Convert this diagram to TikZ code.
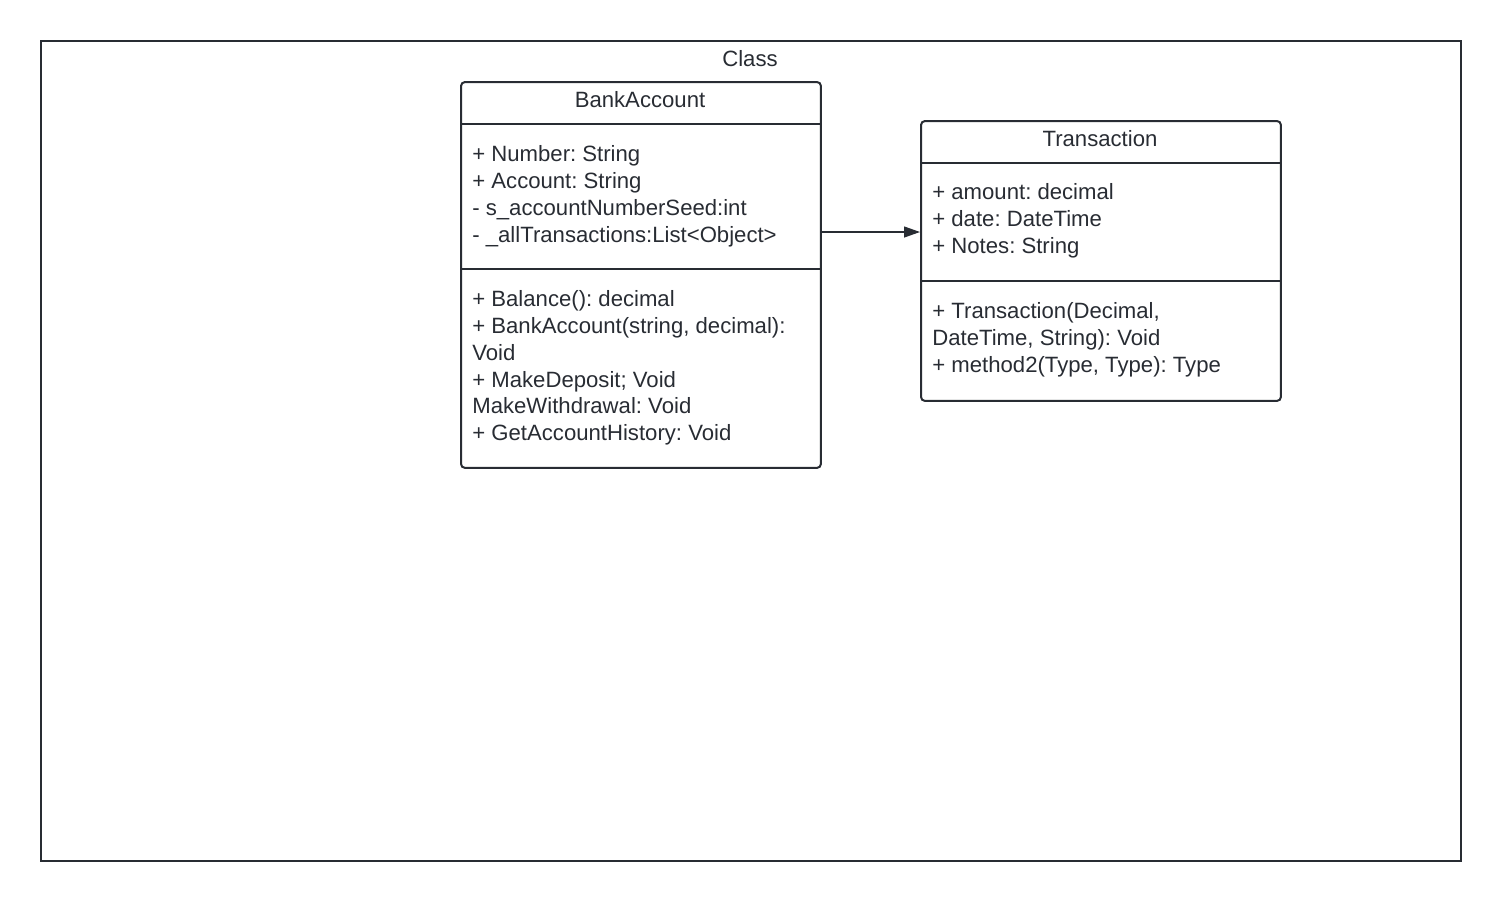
\documentclass[tikz,border=0pt]{standalone}
\usepackage{fontspec}
\setmainfont{Liberation Sans}
\usetikzlibrary{arrows.meta}
\definecolor{umlgray}{RGB}{40,44,51}
\frenchspacing

\begin{document}
\begin{tikzpicture}[x=0.02cm, y=-0.02cm,
    frame/.style={rectangle, draw=umlgray, line width=0.04cm, anchor=north west, inner sep=0pt},
    classbox/.style={frame, rounded corners=0.08cm},
    member/.style={anchor=base west, align=left, inner sep=0pt, text=umlgray, font=\fontsize{12.6}{15.2}\selectfont},
    title/.style={anchor=base, inner sep=0pt, text=umlgray, font=\fontsize{12.6}{15.2}\selectfont}]
        \useasboundingbox (0,0) rectangle (1500,900);
        \node[frame, minimum width=28.4cm, minimum height=16.4cm] (outer) at (40,40) {};
        \node[title] (cls) at (750,66) {Class};

        % base anchor of a multi-line node = baseline of its last line
        \node[classbox, minimum width=7.2cm, minimum height=7.72cm] (bank) at (460,81) {};
        \node[title] (bankname) at (640,107) {BankAccount};
        \node[member] (bankattr) at (472,242) {+ Number: String\\+ Account: String\\- s\_accountNumberSeed:int\\- \_allTransactions:List<Object>};
        \node[member] (bankops) at (472,440.5) {+ Balance(): decimal\\+ BankAccount(string, decimal):\\Void\\+ MakeDeposit; Void\\MakeWithdrawal: Void\\+ GetAccountHistory: Void};

        \node[classbox, minimum width=7.2cm, minimum height=5.6cm] (trans) at (920,120) {};
        \node[title] (transname) at (1100,146) {Transaction};
        \node[member] (transattr) at (932,253.4) {+ amount: decimal\\+ date: DateTime\\+ Notes: String};
        \node[member] (transops) at (932,372.4) {+ Transaction(Decimal,\\DateTime, String): Void\\+ method2(Type, Type): Type};

        \draw[umlgray, line width=0.04cm] (bank.west |- 0,124) -- (bank.east |- 0,124);
        \draw[umlgray, line width=0.04cm] (bank.west |- 0,269) -- (bank.east |- 0,269);
        \draw[umlgray, line width=0.04cm] (trans.west |- 0,163) -- (trans.east |- 0,163);
        \draw[umlgray, line width=0.04cm] (trans.west |- 0,281) -- (trans.east |- 0,281);

        \draw[umlgray, line width=0.025cm, -{Triangle[length=0.32cm, width=0.22cm]}] (bank.east |- 0,232) -- (trans.west |- 0,232);
    \end{tikzpicture}
\end{document}
